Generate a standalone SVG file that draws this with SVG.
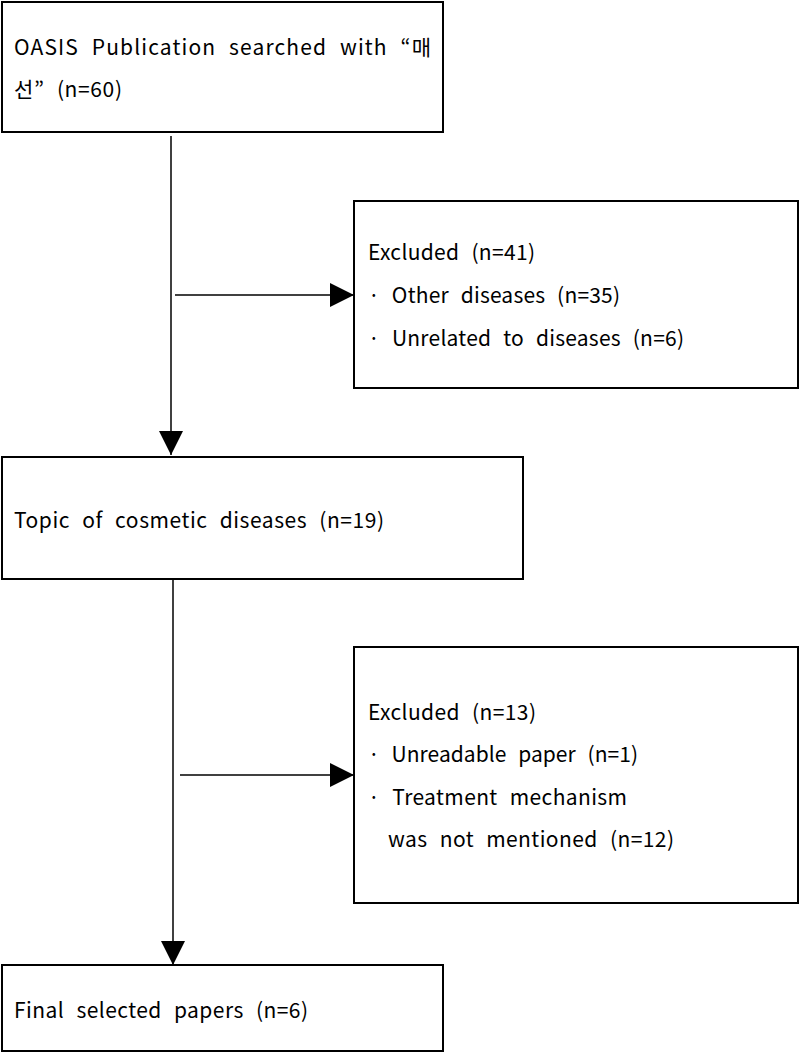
<svg xmlns="http://www.w3.org/2000/svg" width="800" height="1053" viewBox="0 0 800 1053">
<style>
.box{fill:#fff;stroke:#000;stroke-width:2}
.t{font-family:"Noto Sans CJK KR","Noto Sans",sans-serif;font-size:21px;fill:#000;word-spacing:7px}
.ln{stroke:#000;stroke-width:1.5;fill:none}
</style>
<defs>
<marker id="ah" viewBox="0 0 10 10" refX="10" refY="5" markerWidth="24" markerHeight="24" markerUnits="userSpaceOnUse" orient="auto">
<path d="M0,0 L10,5 L0,10 Z" fill="#000"/>
</marker>
</defs>
<rect width="800" height="1053" fill="#fff"/>
<g id="connectors">
<line class="ln" x1="171" y1="136" x2="171" y2="455" marker-end="url(#ah)"/>
<line class="ln" x1="175" y1="295" x2="354" y2="295" marker-end="url(#ah)"/>
<line class="ln" x1="173" y1="580" x2="173" y2="965" marker-end="url(#ah)"/>
<line class="ln" x1="180" y1="775" x2="354" y2="775" marker-end="url(#ah)"/>
</g>
<g id="n1">
<rect class="box" x="2" y="2" width="441" height="130"/>
<text class="t" x="14" y="55" textLength="417" lengthAdjust="spacing">OASIS Publication searched with “매</text>
<text class="t" x="14" y="97" textLength="108" lengthAdjust="spacing">선” (n=60)</text>
</g>
<g id="n2">
<rect class="box" x="354" y="201" width="444" height="187"/>
<text class="t" x="368" y="260" textLength="167" lengthAdjust="spacing">Excluded (n=41)</text>
<text class="t" x="368" y="303" textLength="252" lengthAdjust="spacing">· Other diseases (n=35)</text>
<text class="t" x="368" y="346" textLength="316" lengthAdjust="spacing">· Unrelated to diseases (n=6)</text>
</g>
<g id="n3">
<rect class="box" x="2" y="457" width="521" height="122"/>
<text class="t" x="14" y="528" textLength="370" lengthAdjust="spacing">Topic of cosmetic diseases (n=19)</text>
</g>
<g id="n4">
<rect class="box" x="354" y="647" width="444" height="256"/>
<text class="t" x="368" y="720" textLength="168" lengthAdjust="spacing">Excluded (n=13)</text>
<text class="t" x="368" y="762" textLength="270" lengthAdjust="spacing">· Unreadable paper (n=1)</text>
<text class="t" x="368" y="805" textLength="259" lengthAdjust="spacing">· Treatment mechanism</text>
<text class="t" x="388" y="847" textLength="286" lengthAdjust="spacing">was not mentioned (n=12)</text>
</g>
<g id="n5">
<rect class="box" x="2" y="965" width="441" height="86"/>
<text class="t" x="14" y="1018" textLength="294" lengthAdjust="spacing">Final selected papers (n=6)</text>
</g>
</svg>
